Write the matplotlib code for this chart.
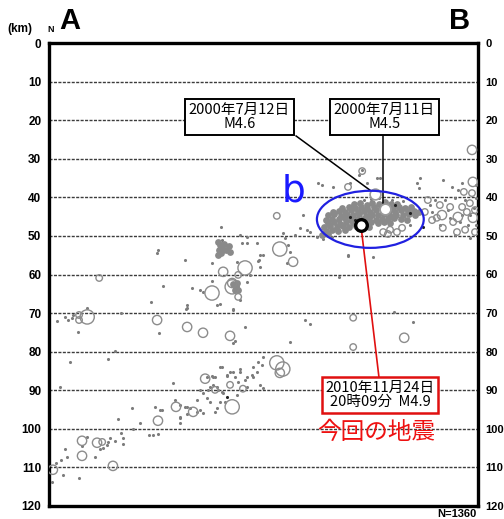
import matplotlib
matplotlib.use('Agg')
import matplotlib.pyplot as plt
from matplotlib.patches import Ellipse

plt.rcParams['font.family'] = ['Noto Sans CJK JP', 'DejaVu Sans']

# ---------------- data ----------------
depth_ticks = [0, 10, 20, 30, 40, 50, 60, 70, 80, 90, 100, 110, 120]
n_events = 1360

# small events (dots): distance along A-B profile (0-100), depth (km)
dot_x = [0.7, 1.6, 2.8, 3.3, 3.7, 4.2, 7.0, 7.7, 8.9, 10.7, 11.9, 12.6, 13.5, 13.8, 14.2,
         15.4, 17.2, 17.2, 16.8, 16.1, 19.3, 19.6, 21.2, 23.3, 24.2, 25.4, 24.7, 26.3, 28.9,
         30.5, 30.5, 32.2, 2.6, 13.8,
         29.4, 30.5, 31.7, 32.9, 34.5, 35.9, 25.9, 30.5, 32.2, 38.7, 37.5, 38.2, 39.2, 39.4,
         40.3, 40.6, 37.1, 35.2, 35.9, 34.5, 36.8, 37.5, 39.2, 39.9, 41.0, 35.2, 43.8, 44.1,
         46.2, 49.2, 49.9, 49.9, 49.7, 48.5, 47.6, 46.2, 45.7, 44.5, 43.4, 42.2, 41.5, 40.3,
         38.7, 38.0, 42.9, 56.2, 39.9, 47.6, 48.7, 36.8, 44.5, 42.9, 41.5, 38.2, 47.3,
         1.9, 3.7, 4.4, 5.4, 5.6, 6.8, 8.9, 4.9, 15.4, 16.8, 25.4, 25.2, 26.6, 23.8, 25.6,
         31.7, 33.3, 32.2, 32.2, 35.2, 35.9, 38.0, 38.0, 39.2, 39.9, 42.9, 40.1, 45.7, 43.4,
         44.5, 46.2, 48.5, 45.0, 43.8, 49.2, 48.7, 46.2, 46.9, 44.5, 31.9, 42.9, 54.5, 55.7,
         56.2, 55.5, 59.7, 60.8, 49.9, 49.0, 49.2, 67.6, 69.7, 75.5, 80.4, 84.8, 40.3,
         73.0, 77.2, 85.8, 86.5, 86.2, 63.6, 66.2, 70.2, 74.1, 76.5, 72.3, 91.8, 93.9, 96.3,
         62.7, 59.2, 69.7, 63.9, 60.1, 66.0, 84.1, 46.2, 55.0, 62.5, 64.3, 60.8, 58.5, 57.3,
         88.8, 90.0, 92.3, 94.6, 93.0, 95.8, 97.7, 99.5, 97.0, 98.1, 99.5, 94.6, 98.1, 91.1,
         89.3, 93.5, 96.3, 99.1, 95.3, 99.6, 75.0, 77.0, 73.5, 80.0, 82.5]
dot_d = [113.7, 108.8, 108.0, 111.9, 105.2, 107.3, 112.7, 104.4, 102.1, 107.3, 105.2, 104.9,
         104.1, 103.4, 102.3, 103.1, 103.9, 102.3, 101.0, 97.4, 94.6, 100.0, 98.4, 101.6,
         101.6, 101.3, 94.3, 95.1, 88.1, 97.2, 98.4, 94.3, 89.1, 81.9,
         92.5, 93.8, 94.3, 94.6, 95.6, 95.9, 95.1, 96.9, 96.1, 95.6, 89.1, 88.6, 89.1, 89.9,
         90.4, 90.7, 89.9, 89.9, 90.7, 92.5, 92.0, 93.0, 94.6, 93.0, 93.0, 95.1, 91.2, 87.8,
         89.1, 88.6, 89.4, 81.3, 83.4, 85.2, 86.5, 86.5, 87.3, 85.2, 86.5, 85.2, 86.3, 83.9,
         86.5, 86.3, 77.7, 77.5, 83.9, 83.9, 82.6, 86.5, 84.5, 85.2, 86.0, 86.5, 86.0,
         72.0, 71.0, 71.8, 71.2, 70.5, 74.9, 68.7, 82.6, 79.8, 69.9, 53.6, 54.4, 63.0, 67.1,
         75.1, 56.2, 63.5, 68.7, 67.9, 64.0, 64.5, 61.7, 57.0, 67.9, 67.6, 69.2, 47.7, 73.6,
         77.2, 49.7, 51.8, 51.8, 51.8, 56.7, 54.9, 56.5, 61.9, 60.1, 66.6, 68.9, 68.9, 49.2,
         52.3, 54.1, 57.0, 71.8, 72.8, 54.9, 56.2, 58.0, 60.6, 54.9, 55.4, 69.7, 72.3, 51.0,
         32.9, 35.0, 36.3, 35.0, 37.6, 36.8, 37.3, 36.3, 36.3, 35.0, 34.2, 35.5, 37.3, 36.3,
         36.3, 44.6, 55.2, 50.8, 48.4, 50.3, 47.2, 50.3, 50.5, 50.3, 49.2, 49.0, 47.9, 49.7,
         42.0, 40.7, 40.7, 40.2, 43.3, 46.4, 47.2, 47.2, 40.7, 44.6, 40.2, 49.7, 50.5, 47.2,
         43.8, 45.3, 44.6, 42.7, 38.1, 36.8, 40.5, 40.2, 40.8, 40.6, 41.0]

# dark grey packed events (dense swarms)
swarm_x = [39.4, 39.9, 40.3, 39.6, 40.1, 40.8, 41.3, 39.4, 42.2, 41.9,
           42.9, 43.6, 44.1, 43.4, 43.8,
           71.2, 72.6, 74.1, 75.4, 76.9, 78.3, 79.7, 81.2,
           68.4, 69.9, 71.3, 72.8, 74.2, 75.8, 77.3, 78.7, 80.1, 81.6, 83.1, 84.4,
           66.2, 67.6, 69.1, 70.5, 72.0, 73.4, 74.9, 76.3, 77.8, 79.2, 80.7, 82.1, 83.6, 85.0, 86.2,
           65.1, 66.5, 68.0, 69.4, 70.9, 72.3, 73.8, 75.2, 76.7, 78.1, 79.6, 81.0, 82.5, 83.9, 85.3,
           64.6, 66.0, 67.5, 68.9, 70.4, 71.8, 73.3, 74.7, 76.2, 77.6, 79.1, 80.5, 82.0, 83.4,
           65.0, 66.4, 67.9, 69.3, 70.8, 72.2, 73.7, 75.1, 76.6, 78.0, 79.4,
           64.2, 65.6, 67.1, 68.6, 70.0, 71.5, 74.5,
           64.5, 65.9, 67.4, 69.0, 63.6, 65.1]
swarm_d = [51.6, 52.3, 53.1, 53.6, 54.4, 52.1, 53.6, 54.9, 54.1, 52.6,
           62.4, 63.2, 64.0, 64.0, 62.2,
           41.8, 41.4, 41.9, 41.5, 41.7, 41.3, 41.8, 41.6,
           42.7, 42.4, 42.8, 42.5, 42.7, 42.4, 42.8, 42.5, 42.7, 42.4, 42.8, 42.6,
           43.8, 43.5, 43.7, 43.4, 43.8, 43.5, 43.7, 43.4, 43.8, 43.5, 43.7, 43.4, 43.8, 43.5, 43.7,
           44.7, 44.4, 44.8, 44.5, 44.7, 44.4, 44.8, 44.5, 44.7, 44.4, 44.8, 44.5, 44.7, 44.4, 44.6,
           45.8, 45.5, 45.7, 45.4, 45.8, 45.5, 45.7, 45.4, 45.8, 45.5, 45.7, 45.4, 45.6, 45.8,
           46.7, 46.4, 46.8, 46.5, 46.7, 46.4, 46.8, 46.5, 46.7, 46.4, 46.6,
           47.7, 47.4, 47.8, 47.5, 47.7, 47.4, 47.6,
           48.7, 48.4, 48.8, 48.5, 49.7, 49.4]

# larger events (open circles): distance, depth, magnitude
circ_x = [0.9, 7.7, 7.7, 11.2, 12.4, 14.9, 25.4, 29.6, 33.6, 36.4, 38.7, 42.2, 45.2, 42.7,
          53.1, 54.5, 53.8,
          7.0, 7.0, 8.9, 11.7, 25.2, 32.2, 35.9, 42.2, 38.0, 40.6, 45.7, 44.1, 42.7, 42.7,
          44.1, 53.8, 56.9, 70.9, 70.9, 82.8,
          69.7, 73.0, 98.6, 98.8, 53.1, 79.5, 81.1, 82.3, 77.9, 79.0, 87.6,
          89.3, 90.4, 91.6, 91.8, 93.5, 94.2, 95.3, 96.3, 97.4, 98.1, 98.8, 99.3, 97.0, 99.3,
          98.6, 95.1, 91.1, 88.3, 96.7]
circ_d = [110.6, 107.0, 103.1, 103.6, 103.4, 109.6, 97.9, 94.3, 95.6, 87.0, 89.9, 88.6, 89.6,
          94.3, 82.9, 84.5, 85.5,
          71.8, 70.5, 71.0, 60.9, 71.8, 73.6, 75.1, 75.9, 64.8, 59.3, 58.3, 60.1, 62.2, 63.2,
          65.8, 53.4, 56.7, 71.2, 78.8, 76.4,
          37.3, 33.2, 27.7, 36.0, 44.8, 48.4, 49.0, 47.9, 49.0, 49.5, 43.8,
          45.9, 45.3, 44.6, 47.9, 42.5, 46.4, 45.1, 42.5, 43.8, 41.5, 45.3, 43.3, 48.4, 49.0,
          38.9, 49.0, 42.0, 40.7, 38.6]
circ_m = [2.5, 2.5, 2.5, 2.5, 2.0, 2.5, 2.5, 2.5, 2.5, 2.5, 2.0, 2.0, 2.0, 3.0,
          3.0, 3.0, 2.5,
          2.0, 2.0, 3.0, 2.0, 2.5, 2.5, 2.5, 2.5, 3.0, 2.5, 3.0, 2.0, 2.5, 3.0,
          2.0, 3.0, 2.5, 2.0, 2.0, 2.5,
          2.0, 2.0, 2.5, 2.5, 2.0, 2.0, 2.0, 2.0, 2.0, 2.0, 2.0,
          2.0, 2.0, 2.5, 2.0, 2.0, 2.0, 2.5, 2.0, 2.0, 2.0, 2.5, 2.0, 2.0, 2.0,
          2.0, 2.0, 2.0, 2.0, 2.0]

# tiny black events
black_x = [70.2, 71.4, 80.7, 84.1, 87.2, 77.5, 41.5]
black_d = [45.1, 45.9, 42.0, 44.0, 47.7, 42.5, 91.7]

# labelled events
past_labels = ['2000年7月12日\nM4.6', '2000年7月11日\nM4.5']
past_x = [76.0, 78.3]
past_d = [39.1, 43.0]
main_label = '2010年11月24日\n20時09分  M4.9'
main_x = 72.7
main_d = 47.2

# ---------------- figure ----------------
W, H = 504, 519
fig = plt.figure(figsize=(W / 100, H / 100), dpi=100)
ax = fig.add_axes([49 / W, 1 - 506 / H, 429 / W, 463 / H])
ax.set_xlim(0, 100)
ax.set_ylim(120, 0)

for t in depth_ticks[1:-1]:
    ax.axhline(t, color='#3c3c3c', lw=1.0, ls=(0, (2.2, 1.0)), zorder=1)

size_of = {2.0: 22, 2.5: 45, 3.0: 105}
ax.scatter(dot_x, dot_d, s=5, color='#7c7c7c', linewidths=0, zorder=3)
ax.scatter(swarm_x, swarm_d, s=24, color='#8a8a8a', linewidths=0, zorder=3)
ax.scatter(circ_x, circ_d, s=[size_of[m] for m in circ_m], facecolors='none',
           edgecolors='#8c8c8c', linewidths=1.0, zorder=4)
ax.scatter(black_x, black_d, s=5, color='#222222', linewidths=0, zorder=5)

# highlighted events
ax.scatter(past_x, past_d, s=60, facecolors='white', edgecolors='#9a9a9a',
           linewidths=1.2, zorder=6)
ax.scatter([main_x], [main_d], s=70, facecolors='white', edgecolors='black',
           linewidths=2.4, zorder=7)

# ellipse b
ax.add_patch(Ellipse((74.9, 45.7), width=24.9, height=14.8, fill=False,
                     edgecolor='#2020e0', lw=1.6, zorder=6))
ax.text(56.9, 38.6, 'b', color='#1a1aff', fontsize=27, family='DejaVu Sans',
        ha='center', va='center', zorder=8)

# annotation boxes
box_kw = dict(boxstyle='square,pad=0.25', fc='white', ec='black', lw=1.4)
ax.text(44.4, 19.2, past_labels[0], ha='center', va='center', fontsize=10.5,
        linespacing=1.0, bbox=box_kw, zorder=9)
ax.text(78.2, 19.2, past_labels[1], ha='center', va='center', fontsize=10.5,
        linespacing=1.0, bbox=box_kw, zorder=9)
ax.plot([57.6, past_x[0]], [24.1, past_d[0]], color='black', lw=1.1, zorder=5)
ax.plot([77.9, 77.9], [24.1, 41.5], color='black', lw=1.1, zorder=5)

ax.plot([main_x, 76.9], [main_d, 86.5], color='#e01010', lw=1.2, zorder=5)
ax.text(77.2, 91.2, main_label, ha='center', va='center', fontsize=10.5,
        linespacing=1.0, zorder=9,
        bbox=dict(boxstyle='square,pad=0.25', fc='white', ec='#e01010', lw=1.8))
ax.text(76.2, 101.0, '今回の地震', color='#ee1111', fontsize=17,
        ha='center', va='center', zorder=9)

# axes styling
ax.set_xticks([])
ax.set_yticks(depth_ticks)
ax.set_yticklabels([str(t) for t in depth_ticks], family='Liberation Sans',
                   fontweight='bold', fontsize=8.5)
ax.tick_params(axis='y', left=False, right=False, labelleft=True,
               labelright=True, pad=2)
for tk in ax.yaxis.get_major_ticks():
    tk.label2.set_fontsize(8)
    tk.label2.set_fontweight('bold')
for sp in ax.spines.values():
    sp.set_linewidth(2.4)
    sp.set_color('black')

fig.text(7 / W, 1 - 29 / H, '(km)', family='Liberation Sans', fontweight='bold',
         fontsize=8.5, va='center', ha='left')
fig.text(47 / W, 1 - 30 / H, 'N', family='Liberation Sans', fontweight='bold',
         fontsize=6.5, va='center', ha='left')
fig.text(70 / W, 1 - 21 / H, 'A', family='Liberation Sans', fontweight='bold',
         fontsize=21, va='center', ha='center')
fig.text(460 / W, 1 - 21 / H, 'B', family='Liberation Sans', fontweight='bold',
         fontsize=21, va='center', ha='center')
fig.text(477 / W, 1 - 514 / H, 'N=' + str(n_events), family='Liberation Sans',
         fontweight='bold', fontsize=8, va='center', ha='right')

fig.savefig('out.png', dpi=100)
